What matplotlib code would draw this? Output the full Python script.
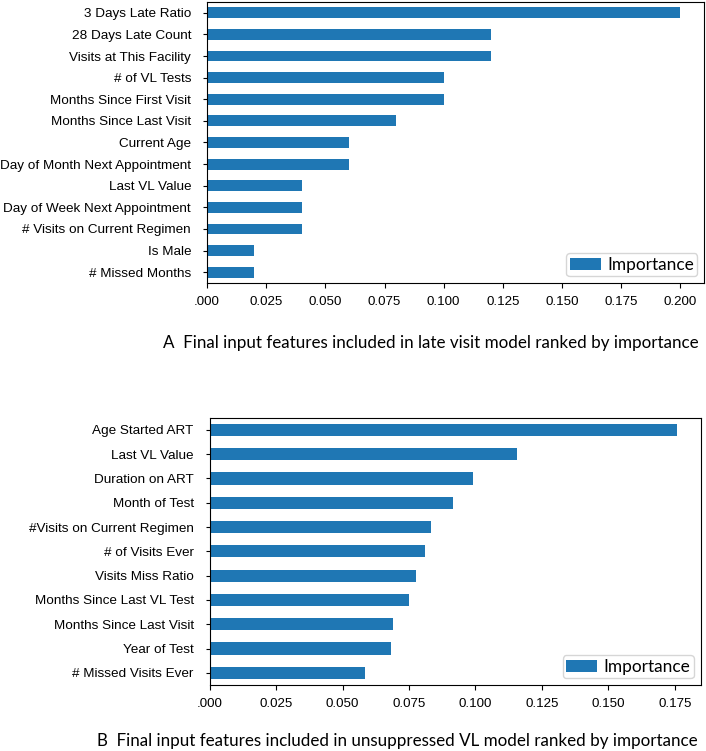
import numpy as np
import matplotlib.pyplot as plt

# panel A: late visit model
feat_a = ['3 Days Late Ratio', '28 Days Late Count', 'Visits at This Facility',
          '# of VL Tests', 'Months Since First Visit', 'Months Since Last Visit',
          'Current Age', 'Day of Month Next Appointment', 'Last VL Value',
          'Day of Week Next Appointment', '# Visits on Current Regimen',
          'Is Male', '# Missed Months']
imp_a = [0.200, 0.120, 0.120, 0.100, 0.100, 0.080, 0.060, 0.060,
         0.040, 0.040, 0.040, 0.020, 0.020]
ticks_a = [0, 0.025, 0.05, 0.075, 0.1, 0.125, 0.15, 0.175, 0.2]
ticklab_a = ['.000', '0.025', '0.050', '0.075', '0.100', '0.125', '0.150', '0.175', '0.200']

# panel B: unsuppressed VL model
feat_b = ['Age Started ART', 'Last VL Value', 'Duration on ART', 'Month of Test',
          '#Visits on Current Regimen', '# of Visits Ever', 'Visits Miss Ratio',
          'Months Since Last VL Test', 'Months Since Last Visit', 'Year of Test',
          '# Missed Visits Ever']
imp_b = [0.1759, 0.1157, 0.0991, 0.0914, 0.0831, 0.0809, 0.0777,
         0.0749, 0.0688, 0.0681, 0.0583]
ticks_b = [0, 0.025, 0.05, 0.075, 0.1, 0.125, 0.15, 0.175]
ticklab_b = ['.000', '0.025', '0.050', '0.075', '0.100', '0.125', '0.150', '0.175']

cap_a = 'A  Final input features included in late visit model ranked by importance'
cap_b = 'B  Final input features included in unsuppressed VL model ranked by importance'

tick_font = 'Liberation Sans'
cap_font = 'Lato'

fig = plt.figure(figsize=(7.06, 7.51), dpi=100)


def panel(rect, feats, vals, ticks, ticklabs):
    ax = fig.add_axes(rect)
    pos = np.arange(len(feats))[::-1]
    ax.barh(pos, vals, height=0.5, color='#1f77b4', label='Importance')
    ax.set_ylim(-0.5, len(feats) - 0.5)
    ax.set_xlim(0, max(vals) * 1.05)
    ax.set_yticks(pos)
    ax.set_yticklabels(feats, family=tick_font, fontsize=9.7)
    ax.set_xticks(ticks)
    ax.set_xticklabels(ticklabs, family=tick_font, fontsize=9.6)
    ax.tick_params(axis='y', pad=8.5, length=3)
    ax.tick_params(axis='x', pad=6, length=3.5)
    ax.legend(loc='lower right', prop={'family': cap_font, 'size': 12.4},
              handlelength=1.8, handletextpad=0.35, borderpad=0.2,
              borderaxespad=0.4)
    return ax


panel([207/706, 1 - 283/751, 497/706, 281/751], feat_a, imp_a, ticks_a, ticklab_a)
panel([209.6/706, 1 - 685/751, 491/706, 267.3/751], feat_b, imp_b, ticks_b, ticklab_b)

fig.text(430.5/706, 1 - 343/751, cap_a, ha='center', va='center', family=cap_font, fontsize=12.25)
fig.text(397/706, 1 - 741/751, cap_b, ha='center', va='center', family=cap_font, fontsize=12.25)

fig.savefig('out.png', dpi=100)
